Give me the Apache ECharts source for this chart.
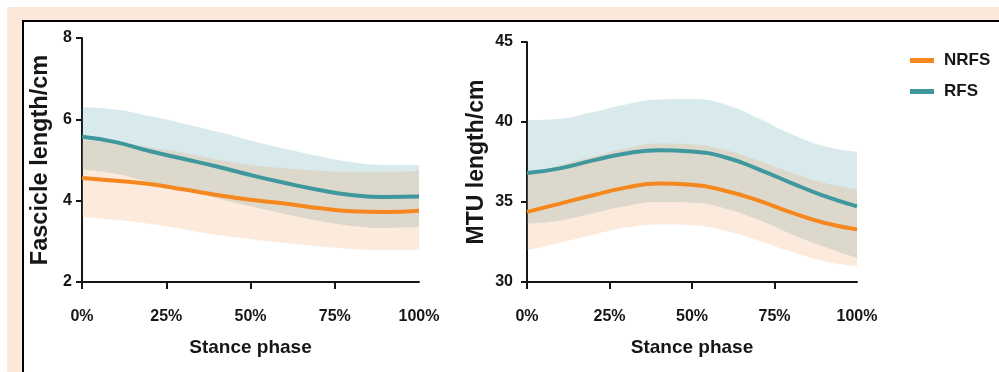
<!DOCTYPE html>
<html>
<head>
<meta charset="utf-8">
<script src="https://cdn.jsdelivr.net/npm/echarts@6/dist/echarts.min.js"></script>
<style>
html,body{margin:0;padding:0;background:#fff;}
#c{width:999px;height:372px;}
</style>
</head>
<body>
<div id="c"></div>
<script>
// ---- data ----
const stance = [0, 10, 20, 30, 40, 50, 60, 70, 80, 90, 100];
const xTickValues = [0, 25, 50, 75, 100];
const xTickMarks = [0, 25, 50, 75];
const fascTicks = [2, 4, 6, 8];
const mtuTicks = [30, 35, 40, 45];

const fascNRFS      = [4.56, 4.49, 4.41, 4.28, 4.14, 4.02, 3.93, 3.82, 3.74, 3.72, 3.75];
const fascNRFSUpper = [5.49, 5.42, 5.32, 5.18, 5.02, 4.88, 4.80, 4.74, 4.70, 4.70, 4.74];
const fascNRFSLower = [3.60, 3.53, 3.43, 3.30, 3.16, 3.05, 2.96, 2.88, 2.81, 2.78, 2.79];
const fascRFS       = [5.57, 5.44, 5.22, 5.03, 4.84, 4.63, 4.44, 4.27, 4.14, 4.09, 4.10];
const fascRFSUpper  = [6.30, 6.24, 6.08, 5.90, 5.70, 5.48, 5.28, 5.10, 4.95, 4.88, 4.88];
const fascRFSLower  = [4.76, 4.66, 4.45, 4.26, 4.06, 3.86, 3.68, 3.51, 3.38, 3.33, 3.35];

const mtuNRFS       = [34.38, 34.90, 35.42, 35.90, 36.15, 36.08, 35.70, 35.10, 34.35, 33.70, 33.29];
const mtuNRFSUpper  = [36.70, 37.30, 37.85, 38.35, 38.65, 38.60, 38.25, 37.60, 36.85, 36.20, 35.80];
const mtuNRFSLower  = [31.98, 32.45, 32.95, 33.40, 33.60, 33.55, 33.20, 32.60, 31.90, 31.30, 31.00];
const mtuRFS        = [36.81, 37.10, 37.60, 38.03, 38.24, 38.16, 37.80, 37.06, 36.20, 35.38, 34.73];
const mtuRFSUpper   = [40.11, 40.20, 40.62, 41.10, 41.40, 41.43, 41.10, 40.25, 39.25, 38.50, 38.13];
const mtuRFSLower   = [33.65, 33.85, 34.30, 34.75, 35.00, 34.95, 34.60, 33.90, 33.00, 32.20, 31.50];

// ---- styling ----
const FONT = 'Liberation Sans, Arial, Helvetica, sans-serif';
const INK = '#161616';
const ORANGE = '#f5871e';
const TEAL = '#3e989e';
const ORANGE_BAND = 'rgba(240,150,80,0.20)';
const TEAL_BAND = 'rgba(60,150,160,0.20)';

const diff = (up, lo) => up.map((v, i) => +(v - lo[i]).toFixed(3));

// series use hidden category axes (index 2 and 3) that share the grid with the visible value axes
function band(name, g, up, lo, color) {
  return [
    { name: name + '_base', type: 'line', xAxisIndex: g + 2, yAxisIndex: g, stack: name,
      data: lo, smooth: true, symbol: 'none', silent: true,
      lineStyle: { opacity: 0 }, z: 1 },
    { name: name + '_band', type: 'line', xAxisIndex: g + 2, yAxisIndex: g, stack: name,
      data: diff(up, lo), smooth: true, symbol: 'none', silent: true,
      lineStyle: { opacity: 0 }, areaStyle: { color: color, opacity: 1 }, z: 1 }
  ];
}
function meanLine(name, g, vals, color) {
  return { name: name, type: 'line', xAxisIndex: g + 2, yAxisIndex: g, data: vals,
    smooth: true, symbol: 'none', lineStyle: { color: color, width: 4 },
    itemStyle: { color: color }, z: 3 };
}

function xAxis(gridIndex) {
  return {
    type: 'value', gridIndex: gridIndex, min: 0, max: 100, interval: 25,
    name: 'Stance phase', nameLocation: 'middle', nameGap: 56,
    nameTextStyle: { fontFamily: FONT, fontWeight: 'bold', fontSize: 19, color: INK },
    axisLine: { show: true, lineStyle: { color: INK, width: 2 } },
    axisTick: { show: true, length: 7, lineStyle: { color: INK, width: 2 }, customValues: xTickMarks },
    axisLabel: { fontFamily: FONT, fontWeight: 'bold', fontSize: 16, color: INK, margin: 27,
      customValues: xTickValues, formatter: (v) => v + '%' },
    splitLine: { show: false }
  };
}
function hiddenX(gridIndex) {
  return { type: 'category', gridIndex: gridIndex, data: stance, boundaryGap: false, show: false };
}
function yAxis(gridIndex, min, max, interval, ticks, name, gap, margin, nameSize) {
  return {
    type: 'value', gridIndex: gridIndex, min: min, max: max, interval: interval,
    name: name, nameLocation: 'middle', nameGap: gap, nameRotate: 90,
    nameTextStyle: { fontFamily: FONT, fontWeight: 'bold', fontSize: nameSize, color: INK },
    axisLine: { show: true, lineStyle: { color: INK, width: 2 } },
    axisTick: { show: true, length: 6, lineStyle: { color: INK, width: 2 }, customValues: ticks },
    axisLabel: { fontFamily: FONT, fontWeight: 'bold', fontSize: 16, color: INK, margin: margin,
      customValues: ticks },
    splitLine: { show: false }
  };
}

const chart = echarts.init(document.getElementById('c'), null, { renderer: 'canvas' });
chart.setOption({
  animation: false,
  backgroundColor: '#ffffff',
  graphic: [
    { type: 'rect', z: -10, silent: true, shape: { x: 7, y: 7, width: 1000, height: 400 },
      style: { fill: '#fbe8da' } },
    { type: 'rect', z: -9, silent: true, shape: { x: 23, y: 21, width: 1000, height: 400 },
      style: { fill: '#ffffff', stroke: '#000000', lineWidth: 2 } }
  ],
  legend: {
    orient: 'vertical', left: 905, top: 47, itemGap: 14,
    itemWidth: 24, itemHeight: 5, icon: 'rect',
    data: ['NRFS', 'RFS'],
    textStyle: { fontFamily: FONT, fontWeight: 'bold', fontSize: 17, color: INK, padding: [0, 0, 0, 5] }
  },
  grid: [
    { left: 82, top: 38, width: 337, height: 244 },
    { left: 527, top: 42, width: 330, height: 240 }
  ],
  xAxis: [xAxis(0), xAxis(1), hiddenX(0), hiddenX(1)],
  yAxis: [
    yAxis(0, 2, 8, 2, fascTicks, 'Fascicle length/cm', 29, 10, 23.5),
    yAxis(1, 30, 45, 5, mtuTicks, 'MTU length/cm', 39, 14, 23)
  ],
  series: [
    ...band('fRFS', 0, fascRFSUpper, fascRFSLower, TEAL_BAND),
    ...band('fNRFS', 0, fascNRFSUpper, fascNRFSLower, ORANGE_BAND),
    ...band('mRFS', 1, mtuRFSUpper, mtuRFSLower, TEAL_BAND),
    ...band('mNRFS', 1, mtuNRFSUpper, mtuNRFSLower, ORANGE_BAND),
    meanLine('NRFS', 0, fascNRFS, ORANGE),
    meanLine('RFS', 0, fascRFS, TEAL),
    meanLine('NRFS', 1, mtuNRFS, ORANGE),
    meanLine('RFS', 1, mtuRFS, TEAL)
  ]
});
</script>
</body>
</html>
